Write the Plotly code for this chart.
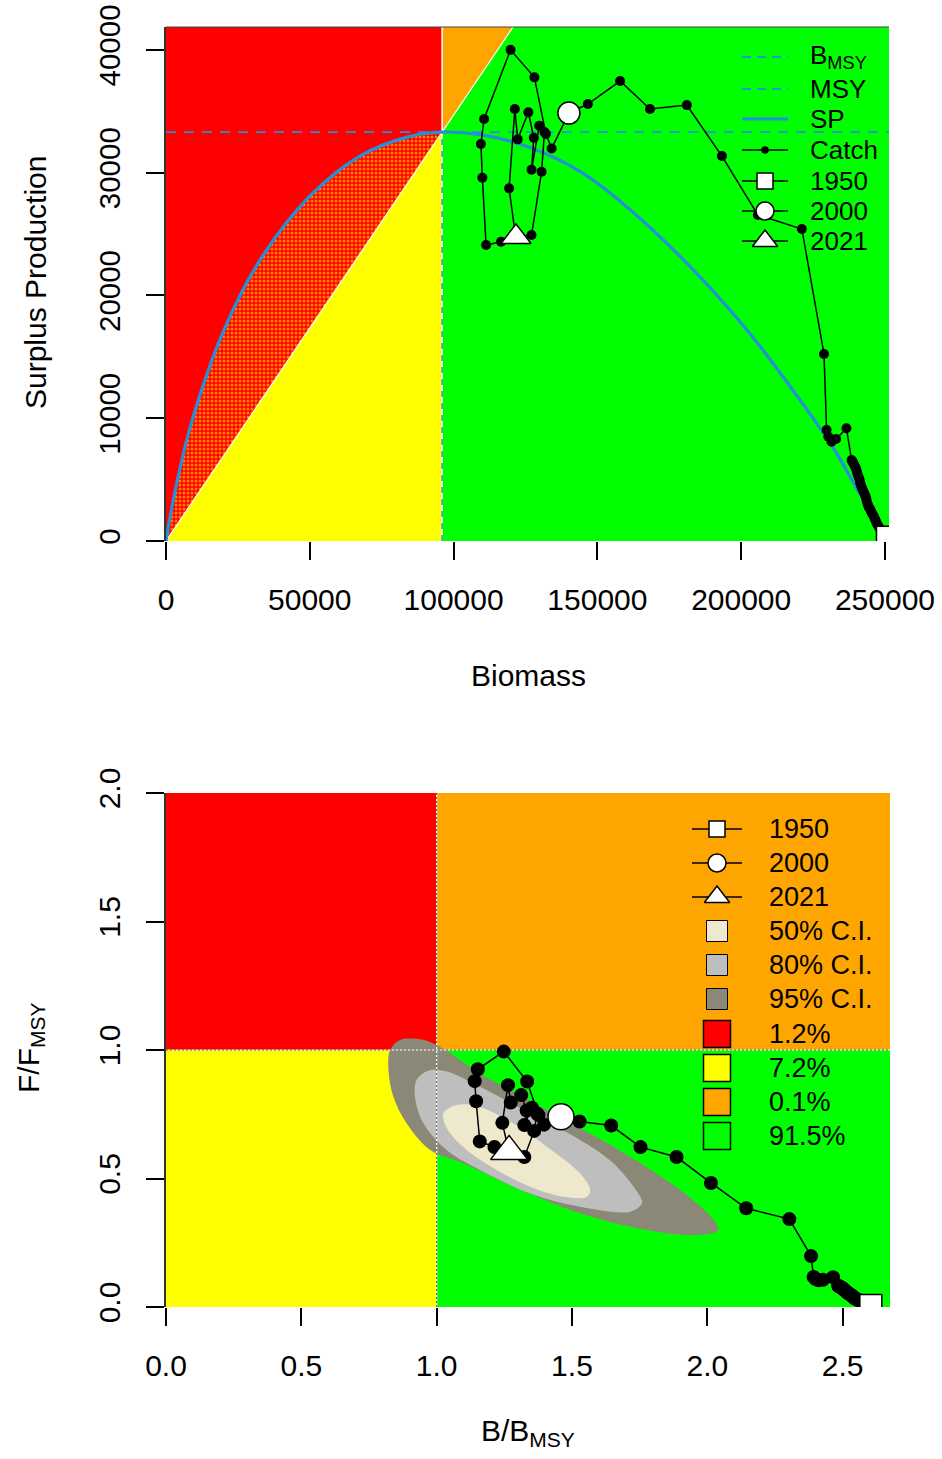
import plotly.graph_objects as go

# ---------------- data ----------------
years = list(range(1950, 2022))
biomass = [250000, 249400, 248900, 248400, 248000, 247600, 247200, 246900, 246600, 246300,
           246000, 245600, 245300, 245000, 244700, 244300, 244000, 243700, 243500, 243300,
           243000, 242700, 242300, 242000, 241700, 241400, 241200, 240900, 240600, 240300,
           240100, 239800, 239500, 239200, 238900, 238600, 238400, 236600, 233000, 231400,
           230300, 229700, 228800, 221100, 205800, 193300, 181100, 168300, 157900, 146700,
           140100, 134100, 132100, 128100, 119800, 110600, 109500, 110000, 111300, 116500,
           121500, 119300, 121300, 122300, 126000, 127900, 127100, 129800, 131600, 130600,
           127100, 121700]
catch = [500, 640, 800, 960, 1100, 1250, 1400, 1560, 1750, 1900,
         2050, 2200, 2350, 2500, 2650, 2800, 2980, 3200, 3450, 3610,
         3780, 3950, 4150, 4320, 4500, 4700, 4970, 5150, 5350, 5560,
         5780, 5950, 6100, 6250, 6400, 6500, 6600, 9180, 8300, 8090,
         8500, 9040, 15230, 25410, 26550, 31350, 35500, 35180, 37460, 35590,
         34850, 31970, 33140, 37760, 40000, 34370, 32330, 29590, 24100, 24370,
         24900, 28720, 35180, 32710, 34910, 32840, 30230, 33820, 33300, 30070,
         24920, 24760]

BMSY = 96000
MSY = 33300
FMSY = 0.336

sp_biomass = [0, 3000, 8930, 20000, 32700, 50070, 67450, 84840, 96000, 109200, 126600,
              143950, 161300, 184500, 203000, 220400, 232000, 240100, 245000, 250000]
sp_values = [0, 3900, 9700, 17100, 22880, 28100, 31350, 32950, 33300, 33100, 32050,
             30100, 27000, 21800, 16900, 11500, 7600, 4300, 2400, 0]

ci95_x = [0.828, 0.865, 0.939, 1.000, 1.160, 1.407, 1.653, 1.900, 2.023, 2.041, 1.961,
          1.776, 1.530, 1.283, 1.099, 0.976, 0.889, 0.840, 0.822]
ci95_y = [1.000, 1.039, 1.042, 1.019, 0.909, 0.767, 0.624, 0.455, 0.339, 0.300, 0.280,
          0.300, 0.365, 0.468, 0.559, 0.611, 0.715, 0.818, 0.922]
ci80_x = [0.926, 0.976, 1.037, 1.160, 1.345, 1.530, 1.653, 1.752, 1.758, 1.715, 1.530,
          1.345, 1.160, 1.037, 0.951, 0.920]
ci80_y = [0.883, 0.922, 0.916, 0.857, 0.754, 0.650, 0.559, 0.429, 0.403, 0.371, 0.390,
          0.442, 0.533, 0.611, 0.715, 0.818]
ci50_x = [1.025, 1.062, 1.136, 1.283, 1.407, 1.530, 1.567, 1.555, 1.468, 1.345, 1.222,
          1.111, 1.050, 1.025]
ci50_y = [0.754, 0.782, 0.786, 0.715, 0.624, 0.520, 0.455, 0.429, 0.429, 0.468, 0.533,
          0.611, 0.676, 0.728]

quad_labels = ["1.2%", "7.2%", "0.1%", "91.5%"]
ci_labels = ["50% C.I.", "80% C.I.", "95% C.I."]
year_labels = ["1950", "2000", "2021"]

# ---------------- helpers ----------------
W, H = 942, 1459
def px(x): return x / W
def py(y): return 1 - y / H

RED, YEL, ORA, GRN = "#FF0000", "#FFFF00", "#FFA500", "#00FF00"
BLUE = "#2490D8"
C50, C80, C95 = "#EEE8CD", "#BEBEBE", "#8B8878"
FONT = "Liberation Sans, Arial, sans-serif"

X_MAX_TOP, Y_MAX_TOP = 251400, 41860
X_MAX_BOT, Y_MAX_BOT = 2.675, 2.0

fig = go.Figure()

def poly(xs, ys, color, xa="x", ya="y", **kw):
    fig.add_trace(go.Scatter(x=xs, y=ys, fill="toself", fillcolor=color, mode="lines",
                             line=dict(width=0, color=color), xaxis=xa, yaxis=ya,
                             hoverinfo="skip", showlegend=False, **kw))

# ---------------- top panel ----------------
x_diag_top = Y_MAX_TOP * BMSY / MSY
poly([0, 0, BMSY, BMSY, 0], [0, Y_MAX_TOP, Y_MAX_TOP, MSY, 0], RED)
poly([0, BMSY, BMSY, 0], [0, MSY, 0, 0], YEL)
poly([BMSY, BMSY, x_diag_top, BMSY], [MSY, Y_MAX_TOP, Y_MAX_TOP, MSY], ORA)
poly([BMSY, BMSY, x_diag_top, X_MAX_TOP, X_MAX_TOP, BMSY],
     [0, MSY, Y_MAX_TOP, Y_MAX_TOP, 0, 0], GRN)

# hatched region between diagonal and SP curve (B < BMSY)
left_b = [b for b in sp_biomass if b <= BMSY]
left_sp = [s for b, s in zip(sp_biomass, sp_values) if b <= BMSY]
fig.add_trace(go.Scatter(x=[0, BMSY], y=[0, MSY], mode="lines", line=dict(width=0),
                         hoverinfo="skip", showlegend=False))
fig.add_trace(go.Scatter(x=left_b, y=left_sp, mode="lines", line=dict(width=0, shape="spline"),
                         fill="tonexty", fillcolor=RED,
                         fillpattern=dict(shape=".", bgcolor=RED, fgcolor=YEL, size=4, solidity=0.45),
                         hoverinfo="skip", showlegend=False))

# white boundaries
fig.add_trace(go.Scatter(x=[0, x_diag_top], y=[0, Y_MAX_TOP], mode="lines",
                         line=dict(color="white", width=1.2), hoverinfo="skip", showlegend=False))
fig.add_trace(go.Scatter(x=[BMSY, BMSY], y=[0, Y_MAX_TOP], mode="lines",
                         line=dict(color="white", width=1.5), hoverinfo="skip", showlegend=False))
# reference lines
fig.add_trace(go.Scatter(x=[BMSY, BMSY], y=[0, MSY], mode="lines",
                         line=dict(color=BLUE, width=1.5, dash="6px,6px"), hoverinfo="skip", showlegend=False))
fig.add_trace(go.Scatter(x=[0, X_MAX_TOP], y=[MSY, MSY], mode="lines",
                         line=dict(color=BLUE, width=1.8, dash="10px,8px"), hoverinfo="skip", showlegend=False))
fig.add_trace(go.Scatter(x=sp_biomass, y=sp_values, mode="lines",
                         line=dict(color=BLUE, width=3.2, shape="spline"), hoverinfo="skip", showlegend=False))
# trajectory
fig.add_trace(go.Scatter(x=biomass, y=catch, mode="lines+markers",
                         line=dict(color="black", width=1.5),
                         marker=dict(symbol="circle", size=10, color="black"),
                         hoverinfo="skip", showlegend=False))
idx = [years.index(int(y)) for y in year_labels]
for i, sym, sz in zip(idx, ["square", "circle", "triangle-up"], [17, 22, 26]):
    fig.add_trace(go.Scatter(x=[biomass[i]], y=[catch[i]], mode="markers",
                             marker=dict(symbol=sym, size=sz, color="white",
                                         line=dict(color="black", width=1.5)),
                             hoverinfo="skip", showlegend=False))

# ---------------- bottom panel ----------------
bb = [b / BMSY for b in biomass]
ff = [(c / b) / FMSY for c, b in zip(catch, biomass)]

poly([0, 0, 1, 1, 0], [1, Y_MAX_BOT, Y_MAX_BOT, 1, 1], RED, "x2", "y2")
poly([0, 0, 1, 1, 0], [0, 1, 1, 0, 0], YEL, "x2", "y2")
poly([1, 1, X_MAX_BOT, X_MAX_BOT, 1], [1, Y_MAX_BOT, Y_MAX_BOT, 1, 1], ORA, "x2", "y2")
poly([1, 1, X_MAX_BOT, X_MAX_BOT, 1], [0, 1, 1, 0, 0], GRN, "x2", "y2")

for xs, ys, col in [(ci95_x, ci95_y, C95), (ci80_x, ci80_y, C80), (ci50_x, ci50_y, C50)]:
    fig.add_trace(go.Scatter(x=xs + xs[:1], y=ys + ys[:1], fill="toself", fillcolor=col,
                             mode="lines", line=dict(width=0, color=col, shape="spline", smoothing=1),
                             xaxis="x2", yaxis="y2", hoverinfo="skip", showlegend=False))

for xs, ys in [([1, 1], [0, Y_MAX_BOT]), ([0, X_MAX_BOT], [1, 1])]:
    fig.add_trace(go.Scatter(x=xs, y=ys, mode="lines", line=dict(color="white", width=1.2),
                             xaxis="x2", yaxis="y2", hoverinfo="skip", showlegend=False))
    fig.add_trace(go.Scatter(x=xs, y=ys, mode="lines", line=dict(color="#555555", width=1, dash="2px,2px"),
                             xaxis="x2", yaxis="y2", hoverinfo="skip", showlegend=False))

fig.add_trace(go.Scatter(x=bb, y=ff, mode="lines+markers", line=dict(color="black", width=1.5),
                         marker=dict(symbol="circle", size=14, color="black"),
                         xaxis="x2", yaxis="y2", hoverinfo="skip", showlegend=False))
for i, sym, sz in zip(idx, ["square", "circle", "triangle-up"], [22, 26, 32]):
    fig.add_trace(go.Scatter(x=[bb[i]], y=[ff[i]], mode="markers",
                             marker=dict(symbol=sym, size=sz, color="white",
                                         line=dict(color="black", width=1.5)),
                             xaxis="x2", yaxis="y2", hoverinfo="skip", showlegend=False))

# ---------------- legends (pixel overlay axis) ----------------
def leg_line(x0, x1, y, color, width, dash=None, sym=None, msize=0, mcolor="white"):
    fig.add_trace(go.Scatter(x=[x0, x1], y=[y, y], mode="lines",
                             line=dict(color=color, width=width, dash=dash),
                             xaxis="x3", yaxis="y3", hoverinfo="skip", showlegend=False))
    if sym:
        fig.add_trace(go.Scatter(x=[(x0 + x1) / 2], y=[y], mode="markers",
                                 marker=dict(symbol=sym, size=msize, color=mcolor,
                                             line=dict(color="black", width=1.5)),
                                 xaxis="x3", yaxis="y3", hoverinfo="skip", showlegend=False))

def leg_box(x, y, size, color, lw):
    fig.add_trace(go.Scatter(x=[x], y=[y], mode="markers",
                             marker=dict(symbol="square", size=size, color=color,
                                         line=dict(color="black", width=lw)),
                             xaxis="x3", yaxis="y3", hoverinfo="skip", showlegend=False))

annotations = []
def text(x, y, s, size, anchor="left", angle=0):
    annotations.append(dict(x=px(x), y=py(y), xref="paper", yref="paper", text=s,
                            showarrow=False, xanchor=anchor, yanchor="middle", textangle=angle,
                            font=dict(family=FONT, size=size, color="black")))

# top legend
top_rows = [57, 89, 119, 150, 181, 211, 241]
leg_line(742, 788, top_rows[0], BLUE, 1.8, "9px,6px")
leg_line(742, 788, top_rows[1], BLUE, 1.8, "9px,6px")
leg_line(742, 788, top_rows[2], BLUE, 3.2)
leg_line(742, 788, top_rows[3], "black", 1.5, None, "circle", 6, "black")
leg_line(742, 788, top_rows[4], "black", 1.5, None, "square", 16)
leg_line(742, 788, top_rows[5], "black", 1.5, None, "circle", 18)
leg_line(742, 788, top_rows[6], "black", 1.5, None, "triangle-up", 22)
top_texts = ["B<sub>MSY</sub>", "MSY", "SP", "Catch"] + year_labels
for yy, s in zip(top_rows, top_texts):
    text(808, yy, s, 26)

# bottom legend
bot_rows = [829, 863, 897, 931, 965, 999, 1034, 1068, 1102, 1136]
leg_line(692, 742, bot_rows[0], "black", 1.5, None, "square", 16)
leg_line(692, 742, bot_rows[1], "black", 1.5, None, "circle", 18)
leg_line(692, 742, bot_rows[2], "black", 1.5, None, "triangle-up", 22)
for yy, col in zip(bot_rows[3:6], [C50, C80, C95]):
    leg_box(717, yy, 21, col, 1)
for yy, col in zip(bot_rows[6:], [RED, YEL, ORA, GRN]):
    leg_box(717, yy, 27, col, 1.5)
for yy, s in zip(bot_rows, year_labels + ci_labels + quad_labels):
    text(767, yy, s, 27)

# axis titles
text(35, 283, "Surplus Production", 30, "center", -90)
text(528, 676, "Biomass", 30, "center")
text(528, 1432, "B/B<sub>MSY</sub>", 30, "center")
text(30, 1048, "F/F<sub>MSY</sub>", 30, "center", -90)

def tickfont(size=30):
    return dict(family=FONT, size=size, color="black")
common = dict(showgrid=False, zeroline=False, ticks="outside", ticklen=18, tickwidth=1.5,
              tickcolor="black", automargin=False, ticklabeloverflow="allow")

fig.update_layout(
    width=W, height=H, margin=dict(l=0, r=0, t=0, b=0, autoexpand=False),
    paper_bgcolor="white", plot_bgcolor="rgba(0,0,0,0)",
    showlegend=False, annotations=annotations,
    xaxis=dict(domain=[px(166), px(889)], range=[0, X_MAX_TOP], anchor="y",
               tickvals=[0, 50000, 100000, 150000, 200000, 250000], tickformat="d",
               ticklabelstandoff=14, showline=False, tickfont=tickfont(30), **common),
    yaxis=dict(domain=[py(541), py(27)], range=[0, Y_MAX_TOP], anchor="x",
               tickvals=[0, 10000, 20000, 30000, 40000], tickformat="d", tickangle=-90,
               ticklabelstandoff=14, showline=True, linecolor="#333333", linewidth=1.5,
               tickfont=tickfont(29.5), **common),
    xaxis2=dict(domain=[px(166), px(890)], range=[0, X_MAX_BOT], anchor="y2",
                tickvals=[0, 0.5, 1, 1.5, 2, 2.5], ticktext=["0.0", "0.5", "1.0", "1.5", "2.0", "2.5"],
                ticklabelstandoff=14, showline=False, tickfont=tickfont(30), **common),
    yaxis2=dict(domain=[py(1307), py(793)], range=[0, Y_MAX_BOT], anchor="x2",
                tickvals=[0, 0.5, 1, 1.5, 2], ticktext=["0.0", "0.5", "1.0", "1.5", "2.0"],
                tickangle=-90, ticklabelstandoff=14, tickfont=tickfont(30),
                showline=True, linecolor="#333333", linewidth=1.5, **common),
    xaxis3=dict(domain=[0, 1], range=[0, W], visible=False, anchor="y3", fixedrange=True),
    yaxis3=dict(domain=[0, 1], range=[H, 0], visible=False, anchor="x3", fixedrange=True),
    shapes=[dict(type="line", xref="paper", yref="paper", x0=px(166), x1=px(889),
                 y0=py(27), y1=py(27), line=dict(color="#444444", width=1))],
)

fig.write_html("out.html", config={"displayModeBar": False},
               post_script="document.body.style.margin='0';document.body.style.overflow='hidden';")
